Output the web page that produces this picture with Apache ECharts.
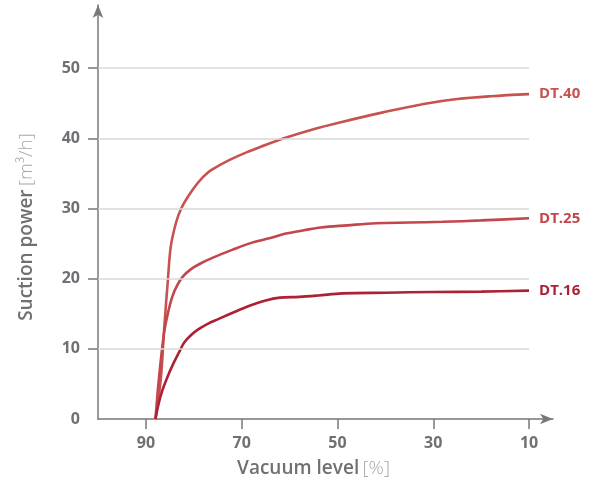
<!DOCTYPE html>
<html>
<head>
<meta charset="utf-8">
<script src="https://cdn.jsdelivr.net/npm/echarts@6/dist/echarts.min.js"></script>
<style>
html,body{margin:0;padding:0;background:#fff;}
#chart{width:590px;height:490px;}
</style>
</head>
<body>
<div id="chart"></div>
<script>
// Vacuum level [%] (x) and suction power [m³/h] (y)
const dt40X = [88, 86.9, 86.2, 85.4, 84.8, 83.7, 82.7, 81.2, 79.1, 77.1, 74.5, 72.3, 69, 66, 61.2, 55, 49.3, 40.5, 32, 25, 18, 10];
const dt40Y = [0, 5.6, 12.7, 19.9, 24.6, 28, 29.9, 31.7, 33.7, 35.1, 36.2, 37.0, 38.0, 38.8, 40, 41.3, 42.3, 43.7, 44.9, 45.6, 46, 46.3];

const dt25X = [88, 87.3, 86.2, 85.3, 84.5, 83.5, 82.3, 80.5, 78.5, 76, 72, 68, 64, 61, 57, 53.5, 48, 42, 35, 28, 20, 10];
const dt25Y = [0, 5.6, 12.3, 15.4, 17.4, 19, 20.3, 21.4, 22.2, 23.0, 24.1, 25.1, 25.8, 26.4, 26.9, 27.3, 27.6, 27.9, 28.0, 28.1, 28.3, 28.6];

const dt16X = [88, 87.4, 86.6, 85.5, 84.2, 83, 82, 80.5, 79, 77, 75, 72, 68.5, 65, 62, 58, 54, 49, 40, 30, 20, 10];
const dt16Y = [0, 2, 4, 6, 8, 9.6, 10.9, 12, 12.8, 13.6, 14.2, 15.1, 16.1, 16.9, 17.3, 17.4, 17.6, 17.9, 18.0, 18.1, 18.15, 18.3];

const seriesNames = ['DT.40', 'DT.25', 'DT.16'];
const seriesColors = ['#c8524f', '#c2464c', '#ad2136'];

const xTicks = [90, 70, 50, 30, 10];
const yTicks = [10, 20, 30, 40, 50];
const yLabels = [0, 10, 20, 30, 40, 50];

const pairs = (xs, ys) => xs.map((x, i) => [x, ys[i]]);
const allData = [pairs(dt40X, dt40Y), pairs(dt25X, dt25Y), pairs(dt16X, dt16Y)];

const FONT = '"Open Sans", "Noto Sans", sans-serif';
const AXIS_COLOR = '#77787b';
const TEXT_COLOR = '#6f7073';

const chart = echarts.init(document.getElementById('chart'), null, {renderer: 'canvas'});

const lineSeries = seriesNames.map((name, i) => ({
  type: 'line',
  name: name,
  data: allData[i],
  showSymbol: false,
  smooth: 0.35,
  z: 3,
  lineStyle: {color: seriesColors[i], width: 2.6},
  itemStyle: {color: seriesColors[i]},
  endLabel: {
    show: true,
    formatter: '{a}',
    align: 'left',
    distance: -10,
    color: seriesColors[i],
    fontFamily: FONT,
    fontWeight: 'bold',
    fontSize: 15
  }
}));

const gridSeries = {
  type: 'line',
  data: [],
  silent: true,
  z: 1,
  markLine: {
    silent: true,
    symbol: ['none', 'none'],
    label: {show: false},
    animation: false,
    lineStyle: {color: '#d9d9d9', width: 1.5, type: 'solid'},
    data: yTicks.map(v => [{coord: [100, v]}, {coord: [10, v]}])
  }
};

chart.setOption({
  animation: false,
  backgroundColor: '#fff',
  grid: {left: 98, right: 37, top: 5, bottom: 71, containLabel: false},
  xAxis: {
    type: 'value',
    min: 5,
    max: 100,
    inverse: true,
    splitLine: {show: false},
    axisLine: {
      show: true,
      symbol: ['none', 'arrow'],
      symbolSize: [8, 13],
      lineStyle: {color: AXIS_COLOR, width: 1.5}
    },
    axisTick: {show: true, customValues: xTicks, length: 10, lineStyle: {color: AXIS_COLOR, width: 1.5}},
    axisLabel: {
      customValues: xTicks,
      margin: 16,
      color: TEXT_COLOR,
      fontFamily: FONT,
      fontWeight: 'bold',
      fontSize: 16
    },
    name: '{b|Vacuum level} {l|[%]}',
    nameLocation: 'middle',
    nameGap: 40,
    nameTextStyle: {
      padding: [0, 24, 0, 0],
      rich: {
        b: {fontFamily: FONT, fontWeight: 600, fontSize: 19, color: TEXT_COLOR},
        l: {fontFamily: FONT, fontWeight: 300, fontSize: 19, color: '#a7a8aa'}
      }
    }
  },
  yAxis: {
    type: 'value',
    min: 0,
    max: 59,
    splitLine: {show: false},
    axisLine: {
      show: true,
      symbol: ['none', 'arrow'],
      symbolSize: [8, 13],
      lineStyle: {color: AXIS_COLOR, width: 1.5}
    },
    axisTick: {show: true, customValues: yTicks, length: 10, lineStyle: {color: AXIS_COLOR, width: 1.5}},
    axisLabel: {
      customValues: yLabels,
      margin: 18,
      color: TEXT_COLOR,
      fontFamily: FONT,
      fontWeight: 'bold',
      fontSize: 16
    },
    name: '{b|Suction power} {l|[m³/h]}',
    nameLocation: 'middle',
    nameGap: 62,
    nameRotate: 90,
    nameTextStyle: {
      padding: [0, 30, 0, 0],
      rich: {
        b: {fontFamily: FONT, fontWeight: 600, fontSize: 19, color: TEXT_COLOR},
        l: {fontFamily: FONT, fontWeight: 300, fontSize: 19, color: '#a7a8aa'}
      }
    }
  },
  series: [gridSeries].concat(lineSeries)
});
</script>
</body>
</html>
